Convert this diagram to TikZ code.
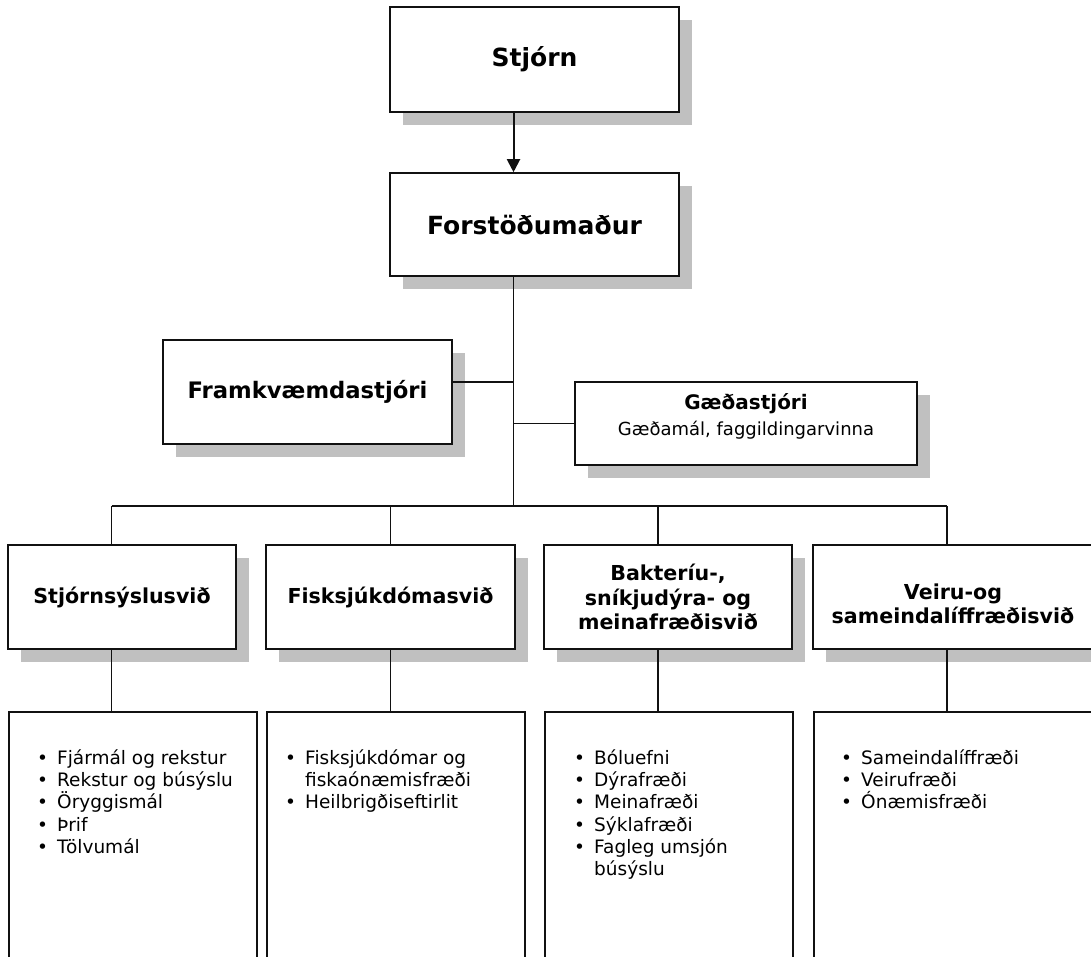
\documentclass[tikz,border=0pt]{standalone}
\usepackage{fontspec}
\setmainfont{DejaVu Sans}
\usetikzlibrary{shadows,arrows.meta,calc}
\definecolor{shgray}{HTML}{C0C0C0}
\definecolor{ink}{HTML}{111111}
\newcommand{\lbul}{\makebox[20pt][l]{•}}
\newcommand{\lind}{\makebox[20pt][l]{}}
\newcommand{\lstrut}{\rule{0pt}{15pt}}
\begin{document}
\begin{tikzpicture}[x=1pt,y=1pt,
  orgbox/.style={draw=ink, line width=1.6pt, fill=white, inner sep=0pt, align=center,
     drop shadow={shadow xshift=13pt, shadow yshift=-13pt, fill=shgray, opacity=1, draw=none}},
  listbox/.style={draw=ink, line width=1.6pt, fill=white, inner sep=0pt, anchor=north west},
  listtext/.style={inner sep=0pt, anchor=north west, align=left, font=\fontsize{18.5}{22.3}\selectfont},
  plaintext/.style={inner sep=0pt, align=center},
  conn/.style={draw=ink, line width=1.3pt},
  arrowline/.style={draw=ink, line width=2pt, -{Triangle[width=13pt,length=13pt]}},
  bigfont/.style={font=\bfseries\fontsize{25}{30}\selectfont},
  midfont/.style={font=\bfseries\fontsize{22.7}{27}\selectfont},
  rowfont/.style={font=\bfseries\fontsize{20.6}{24.5}\selectfont}
]
\useasboundingbox (0,0) rectangle (1091,-956);
\fill[white] (0,0) rectangle (1091,-956);
\clip (0,0) rectangle (1091,-956);

% top boxes
\node[orgbox, bigfont, minimum width=289, minimum height=105] (stjorn) at (534.5,-59.5) {Stjórn};
\node[orgbox, bigfont, minimum width=289, minimum height=103] (forst) at (534.5,-224.5) {Forstöðumaður};
\node[orgbox, midfont, minimum width=289, minimum height=104] (framk) at (307.5,-392) {Framkvæmdastjóri};
\node[orgbox, minimum width=342, minimum height=83] (gaeda) at (746,-423.5) {};
\node[plaintext, font=\bfseries\fontsize{20}{24}\selectfont] (gaedat) at (746,-404) {Gæðastjóri};
\node[plaintext, font=\fontsize{18}{22}\selectfont] (gaedas) at (746,-430) {Gæðamál, faggildingarvinna};

% row 2
\node[orgbox, rowfont, minimum width=228, minimum height=104] (s1) at (122,-597) {Stjórnsýslusvið};
\node[orgbox, rowfont, minimum width=249, minimum height=104] (s2) at (390.5,-597) {Fisksjúkdómasvið};
\node[orgbox, rowfont, minimum width=248, minimum height=104] (s3) at (668,-597) {Bakteríu-,\\sníkjudýra- og\\meinafræðisvið};
\node[orgbox, minimum width=280, minimum height=104] (s4) at (953,-597) {};
\node[plaintext, rowfont] (s4t) at (953,-604) {Veiru-og\\sameindalíffræðisvið};

% row 3
\node[listbox, minimum width=248, minimum height=300] (l1) at (8,-711) {};
\node[listbox, minimum width=258, minimum height=300] (l2) at (266,-711) {};
\node[listbox, minimum width=248, minimum height=300] (l3) at (544,-711) {};
\node[listbox, minimum width=290, minimum height=300] (l4) at (813,-711) {};

\node[listtext] (t1) at (37,-749) {\lstrut\lbul Fjármál og rekstur\\\lbul Rekstur og búsýslu\\\lbul Öryggismál\\\lbul Þrif\\\lbul Tölvumál};
\node[listtext] (t2) at (285,-749) {\lstrut\lbul Fisksjúkdómar og\\\lind fiskaónæmisfræði\\\lbul Heilbrigðiseftirlit};
\node[listtext] (t3) at (574,-749) {\lstrut\lbul Bóluefni\\\lbul Dýrafræði\\\lbul Meinafræði\\\lbul Sýklafræði\\\lbul Fagleg umsjón\\\lind búsýslu};
\node[listtext] (t4) at (841,-749) {\lstrut\lbul Sameindalíffræði\\\lbul Veirufræði\\\lbul Ónæmisfræði};

% connectors
\coordinate (trunk) at (513.5,-506);
\coordinate (fkj) at (513.5,-382);
\coordinate (d1) at (111.7,-506);
\coordinate (d2) at (390.5,-506);
\coordinate (d3) at (658,-506);
\coordinate (d4) at (947,-506);

\draw[arrowline] (stjorn.south -| trunk) -- (forst.north -| trunk);
\draw[conn] (forst.south -| trunk) -- (trunk);
\draw[conn] (framk.east |- fkj) -- (fkj);
\draw[conn] (gaeda.west) -- (gaeda.west -| trunk);
\draw[conn] (d1) -- (d4);
\foreach \i in {1,...,4} {
  \draw[conn] (d\i) -- (s\i.north -| d\i);
  \draw[conn] (s\i.south -| d\i) -- (l\i.north -| d\i);
}
\end{tikzpicture}
\end{document}
